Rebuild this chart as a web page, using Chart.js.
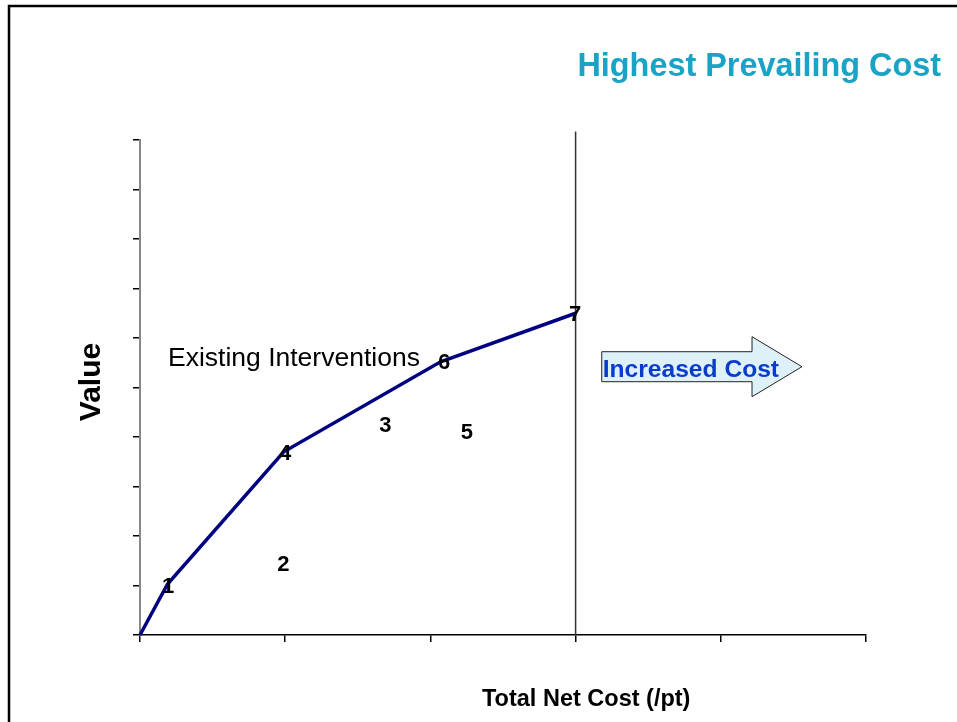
<!DOCTYPE html>
<html>
<head>
<meta charset="utf-8">
<script src="https://cdn.jsdelivr.net/npm/chart.js@4.4.1/dist/chart.umd.min.js"></script>
<style>
    html, body { margin: 0; padding: 0; background: #fff; }
    #chart { display: block; }
</style>
</head>
<body>
<canvas id="chart" width="957" height="722"></canvas>
<script>
// frontier of existing interventions (cost, value)
const frontierX = [0, 0.19, 0.99, 2.07, 3.0];
const frontierY = [0, 1.03, 3.70, 5.52, 6.50];

// numbered interventions
const pointLabels = ["1", "2", "3", "4", "5", "6", "7"];
const pointX = [0.193, 0.987, 1.689, 0.999, 2.252, 2.094, 2.996];
const pointY = [1.00, 1.43, 4.25, 3.68, 4.10, 5.51, 6.49];

// highest prevailing cost line
const highestCostX = 3.0;
const highestCostY = [0, 10.17];

const xMin = 0, xMax = 5, xStep = 1;
const yMin = 0, yMax = 10, yStep = 1;

const FONT = "'Liberation Sans', Arial, Helvetica, sans-serif";

const overlayPlugin = {
    id: "overlay",
    afterDatasetsDraw(chart) {
        const ctx = chart.ctx;
        const xs = chart.scales.x;
        const ys = chart.scales.y;
        ctx.save();

        // slide frame
        ctx.strokeStyle = "#000";
        ctx.lineWidth = 2.5;
        ctx.beginPath();
        ctx.moveTo(9, 722);
        ctx.lineTo(9, 6);
        ctx.lineTo(957, 6);
        ctx.stroke();

        // numbered labels
        ctx.fillStyle = "#000";
        ctx.font = "bold 22px " + FONT;
        ctx.textAlign = "center";
        ctx.textBaseline = "middle";
        pointLabels.forEach((lbl, i) => {
            ctx.fillText(lbl, xs.getPixelForValue(pointX[i]), ys.getPixelForValue(pointY[i]) + 1);
        });

        // arrow
        const ax0 = xs.getPixelForValue(3.18);
        const axHead = xs.getPixelForValue(4.215);
        const axTip = xs.getPixelForValue(4.559);
        const ayC = ys.getPixelForValue(5.42);
        ctx.beginPath();
        ctx.moveTo(ax0, ayC - 15);
        ctx.lineTo(axHead, ayC - 15);
        ctx.lineTo(axHead, ayC - 30);
        ctx.lineTo(axTip, ayC);
        ctx.lineTo(axHead, ayC + 30);
        ctx.lineTo(axHead, ayC + 15);
        ctx.lineTo(ax0, ayC + 15);
        ctx.closePath();
        ctx.fillStyle = "#dff1f8";
        ctx.fill();
        ctx.strokeStyle = "#222";
        ctx.lineWidth = 1;
        ctx.stroke();

        ctx.fillStyle = "#0a3ccc";
        ctx.font = "bold 24.6px " + FONT;
        ctx.textAlign = "left";
        ctx.textBaseline = "alphabetic";
        ctx.fillText("Increased Cost", ax0 + 1, ayC + 10);

        // texts
        ctx.fillStyle = "#000";
        ctx.font = "26.5px " + FONT;
        ctx.fillText("Existing Interventions", 168, 366);

        ctx.fillStyle = "#19a3c4";
        ctx.font = "bold 32.4px " + FONT;
        ctx.textAlign = "right";
        ctx.fillText("Highest Prevailing Cost", 941, 76);

        ctx.fillStyle = "#000";
        ctx.font = "bold 23.5px " + FONT;
        ctx.textAlign = "left";
        ctx.fillText("Total Net Cost (/pt)", 482, 706);

        ctx.translate(100, 382);
        ctx.rotate(-Math.PI / 2);
        ctx.font = "bold 30px " + FONT;
        ctx.textAlign = "center";
        ctx.fillText("Value", 0, 0);

        ctx.restore();
    }
};

function createChart(chartId) {
    const ctx = document.getElementById(chartId).getContext("2d");
    const frontier = frontierX.map((x, i) => ({ x: x, y: frontierY[i] }));
    const costLine = highestCostY.map(y => ({ x: highestCostX, y: y }));

    return new Chart(ctx, {
        type: "scatter",
        data: {
            datasets: [{
                data: costLine,
                showLine: true,
                borderColor: "#333",
                borderWidth: 1.5,
                pointRadius: 0,
                clip: false
            }, {
                data: frontier,
                showLine: true,
                borderColor: "#000080",
                borderWidth: 3.5,
                pointRadius: 0,
                clip: false
            }]
        },
        options: {
            responsive: false,
            animation: false,
            layout: {
                padding: { left: 133, right: 91, top: 140, bottom: 80 }
            },
            plugins: {
                legend: { display: false },
                tooltip: { enabled: false }
            },
            scales: {
                x: {
                    type: "linear",
                    min: xMin,
                    max: xMax,
                    ticks: { display: false, stepSize: xStep },
                    grid: { drawOnChartArea: false, drawTicks: true, tickLength: 7, color: "#000", lineWidth: 1.5 },
                    border: { color: "#000", width: 1.5 }
                },
                y: {
                    min: yMin,
                    max: yMax,
                    ticks: { display: false, stepSize: yStep },
                    grid: { drawOnChartArea: false, drawTicks: true, tickLength: 7, color: "#000", lineWidth: 1.5 },
                    border: { color: "#888", width: 2 }
                }
            }
        },
        plugins: [overlayPlugin]
    });
}

createChart("chart");
</script>
</body>
</html>
